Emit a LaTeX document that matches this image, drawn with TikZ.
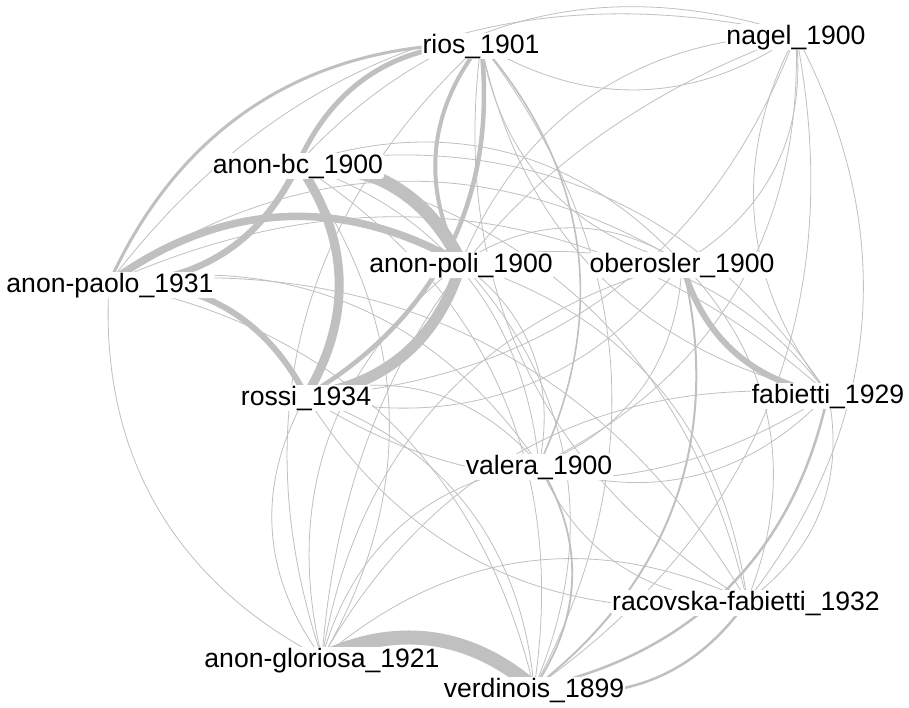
\documentclass[tikz,border=0pt]{standalone}
\usepackage{fontspec}
\setmainfont{Liberation Sans}
\definecolor{eg}{RGB}{192,192,192}
\tikzset{
  ed/.style={draw=eg, line width=0.8pt, bend left=33},
  lab/.style={font=\fontsize{26.6pt}{31pt}\selectfont, anchor=base, fill=white, inner xsep=1pt, inner ysep=0.5pt, rounded corners=3pt},
}
\begin{document}
\begin{tikzpicture}[x=1pt,y=-1pt]
\fill[white] (0,0) rectangle (909,707);
\useasboundingbox (0,0) rectangle (909,707);
% vertices
\coordinate (bc) at (298,164);
\coordinate (gl) at (322,658);
\coordinate (pa) at (109,283);
\coordinate (po) at (461,263);
\coordinate (fa) at (828,394);
\coordinate (na) at (796,35);
\coordinate (ob) at (682,263);
\coordinate (ra) at (747,601);
\coordinate (ri) at (481,44);
\coordinate (ro) at (306,396);
\coordinate (va) at (539,465);
\coordinate (ve) at (534,688);
% thin edges
\draw[ed] (bc) to (gl);
\draw[ed] (bc) to (fa);
\draw[ed] (bc) to (na);
\draw[ed] (bc) to (ob);
\draw[ed] (bc) to (ra);
\draw[ed] (bc) to (va);
\draw[ed] (bc) to (ve);
\draw[ed] (gl) to (pa);
\draw[ed] (gl) to (po);
\draw[ed] (gl) to (fa);
\draw[ed] (gl) to (na);
\draw[ed] (gl) to (ob);
\draw[ed] (gl) to (ra);
\draw[ed] (gl) to (ri);
\draw[ed] (gl) to (ro);
\draw[ed] (gl) to (va);
\draw[ed] (pa) to (fa);
\draw[ed] (pa) to (na);
\draw[ed] (pa) to (ob);
\draw[ed] (pa) to (ra);
\draw[ed] (pa) to (va);
\draw[ed] (pa) to (ve);
\draw[ed] (po) to (fa);
\draw[ed] (po) to (na);
\draw[ed] (po) to (ob);
\draw[ed] (po) to (ra);
\draw[ed] (po) to (va);
\draw[ed] (po) to (ve);
\draw[ed] (fa) to (na);
\draw[ed] (fa) to (ra);
\draw[ed] (fa) to (ri);
\draw[ed] (fa) to (ro);
\draw[ed] (fa) to (va);
\draw[ed] (na) to (ob);
\draw[ed] (na) to (ra);
\draw[ed] (na) to (ri);
\draw[ed] (na) to (ro);
\draw[ed] (na) to (va);
\draw[ed] (na) to (ve);
\draw[ed] (ob) to (ra);
\draw[ed] (ob) to (ri);
\draw[ed] (ob) to (ro);
\draw[ed] (ob) to (va);
\draw[ed] (ra) to (ri);
\draw[ed] (ra) to (ro);
\draw[ed] (ra) to (va);
\draw[ed] (ri) to (ve);
\draw[ed] (ro) to (va);
\draw[ed] (ro) to (ve);
% weighted edges
\draw[ed, line width=1.6pt] (ri) to (va);
\draw[ed, line width=1.8pt] (va) to (ve);
\draw[ed, line width=2pt] (ob) to (ve);
\draw[ed, line width=2.5pt] (ra) to (ve);
\draw[ed, line width=2.5pt] (fa) to (ve);
\draw[ed, line width=3pt] (pa) to (ri);
\draw[ed, line width=4pt] (po) to (ri);
\draw[ed, line width=4.5pt] (ri) to (ro);
\draw[ed, line width=5pt] (bc) to (ri);
\draw[ed, line width=6pt] (fa) to (ob);
\draw[ed, line width=6pt] (pa) to (ro);
\draw[ed, line width=6.5pt] (bc) to (pa);
\draw[ed, line width=7.5pt] (pa) to (po);
\draw[ed, line width=9pt] (bc) to (ro);
\draw[ed, line width=11pt] (po) to (ro);
\draw[ed, line width=13pt] (bc) to (po);
\draw[ed, line width=14pt] (gl) to (ve);
% labels
\node[lab] (Lbc) at (298,173) {anon-bc\_1900};
\node[lab] (Lgl) at (322,667) {anon-gloriosa\_1921};
\node[lab] (Lpa) at (110,292) {anon-paolo\_1931};
\node[lab] (Lpo) at (461,272) {anon-poli\_1900};
\node[lab] (Lfa) at (828,403) {fabietti\_1929};
\node[lab] (Lna) at (796,44) {nagel\_1900};
\node[lab] (Lob) at (682,272) {oberosler\_1900};
\node[lab] (Lra) at (746,610) {racovska-fabietti\_1932};
\node[lab] (Lri) at (481,53) {rios\_1901};
\node[lab] (Lro) at (306,405) {rossi\_1934};
\node[lab] (Lva) at (539,474) {valera\_1900};
\node[lab] (Lve) at (534,697) {verdinois\_1899};
\end{tikzpicture}
\end{document}
